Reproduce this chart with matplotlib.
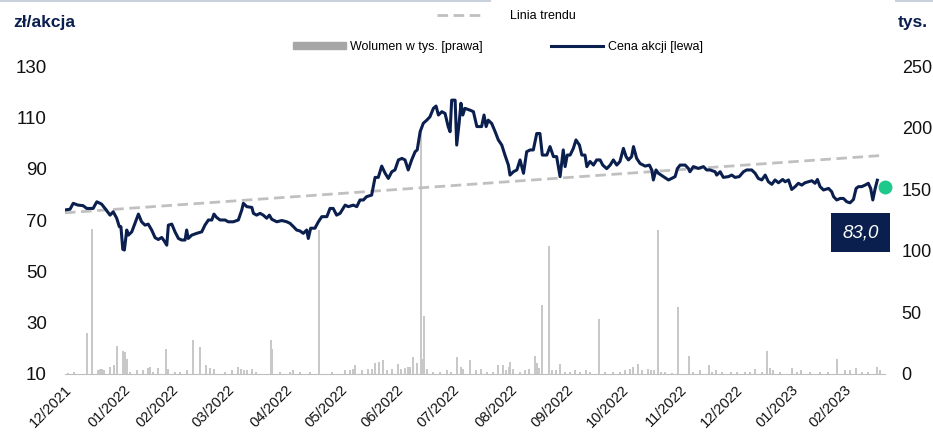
import matplotlib.pyplot as plt
from matplotlib.lines import Line2D
from matplotlib.patches import Patch

plt.rcParams['font.family'] = ['Liberation Sans', 'DejaVu Sans']

# session index (trading days from 1 Dec 2021) and closing price, zl
days = [
    0.0, 1.9, 3.1, 4.9, 6.8, 8.2, 10.6, 12.0, 13.8, 15.1, 17.0, 18.2, 19.5, 20.5, 21.1,
    21.8, 22.4, 23.3, 23.9, 25.2, 26.4, 27.7, 28.9, 30.2, 31.4, 32.7, 34.0, 35.2, 36.5,
    37.4, 38.4, 39.0, 40.3, 41.5, 42.8, 44.0, 45.3, 45.9, 46.5, 47.8, 49.7, 51.6, 52.8,
    54.1, 55.4, 56.2, 57.2, 58.5, 60.4, 61.6, 63.5, 65.4, 66.7, 67.3, 68.6, 70.5, 71.1,
    72.3, 73.6, 74.8, 76.1, 77.1, 78.0, 79.9, 81.8, 83.7, 84.9, 86.2, 87.4, 88.7, 89.9,
    91.2, 91.8, 92.7, 94.3, 95.6, 96.9, 98.8, 100.0, 101.2, 102.5,
    103.8, 105.7, 106.9, 108.8, 110.1, 111.3, 112.6, 113.8, 115.7, 117.0, 118.2, 119.5,
    120.8, 122.0, 123.3, 124.5, 125.8, 127.1, 128.3, 129.5, 130.8, 132.1, 132.9, 134.0,
    135.2, 136.5, 137.7, 139.0, 140.0, 140.9, 142.2, 143.4, 144.6, 145.3, 145.9, 147.2,
    147.8, 148.7, 149.4, 150.1, 150.9, 152.8, 154.1, 155.4, 157.2, 158.1, 158.9, 159.7,
    161.0, 162.3, 163.5, 164.8, 166.0, 167.3, 167.9, 169.2, 170.5, 171.7, 173.0, 174.2,
    175.5, 176.7, 178.0, 179.2, 180.1, 181.8, 183.0, 184.3, 185.5, 186.8, 188.0, 188.7,
    189.5, 190.6, 191.8, 192.8, 194.1, 195.0, 196.2, 196.9, 198.1, 199.4, 200.6, 201.9,
    202.9, 204.4,
    205.7, 206.9, 208.2, 209.4, 210.7, 211.7, 212.6, 213.8, 214.5, 215.7, 217.0, 218.9,
    220.5, 221.4, 222.0, 223.0, 223.9, 225.8, 227.7, 228.9, 230.2, 231.1, 232.1, 234.0,
    235.2, 235.8, 237.1, 239.0, 240.9, 242.1, 243.4, 245.3, 245.9, 247.2, 248.4, 250.3,
    251.6, 252.8, 254.4, 256.0, 257.2, 259.1, 260.4, 261.6, 262.9, 264.2, 265.4, 266.7,
    267.9, 269.2, 270.8, 271.7, 273.0, 274.2, 275.5, 276.7, 278.0, 279.2, 280.5, 281.8,
    283.0, 283.9, 284.9, 286.2, 288.1, 289.3, 290.0, 291.2, 292.5, 293.7, 295.0, 296.2,
    297.5, 298.5, 299.4, 300.6, 301.9, 303.1, 304.0, 304.8, 305.7, 306.5,
]
price = [
    73.9, 74.2, 76.5, 75.8, 75.6, 74.5, 74.5, 77.1, 76.2, 74.5, 71.9, 73.2, 70.7, 67.4, 67.4,
    58.6, 58.3, 66.1, 64.1, 65.4, 68.7, 72.3, 69.3, 68.0, 68.4, 66.1, 63.1, 62.4, 63.2,
    61.9, 60.2, 68.0, 68.4, 65.4, 62.8, 62.2, 62.2, 66.1, 62.8, 64.1, 64.8, 65.4, 68.0,
    70.0, 70.0, 72.3, 71.0, 70.0, 70.0, 69.3, 69.3, 70.0, 73.9, 76.5, 75.2, 74.9, 72.6,
    71.9, 72.6, 71.9, 70.7, 71.9, 70.3, 69.3, 69.8, 69.3, 68.7, 67.4, 66.1, 65.7, 64.8,
    66.1, 62.8, 66.8, 66.8, 69.3, 71.3, 71.3, 74.5, 74.5, 71.9,
    72.6, 75.8, 75.2, 75.8, 75.2, 77.8, 77.8, 79.1, 79.7, 86.6, 86.6, 91.0,
    88.2, 86.2, 88.8, 89.5, 93.4, 94.0, 93.4, 89.5, 93.4, 96.6, 97.3, 104.4,
    107.7, 108.9, 110.2, 113.5, 114.4, 110.9, 112.2, 111.5, 106.3, 104.4, 116.7, 116.7,
    99.2, 107.7, 115.5, 110.9, 113.5, 112.8, 112.2, 106.4, 106.4, 110.9, 106.4, 108.9,
    107.6, 104.4, 101.2, 99.2, 95.3, 91.4, 87.5, 88.8, 89.5, 93.4, 88.2, 96.6,
    97.3, 97.3, 103.7, 103.7, 95.3, 95.3, 98.6, 94.7, 94.7, 86.9, 97.3, 90.8,
    95.3, 95.3, 97.9, 101.2, 99.2, 95.3, 95.3, 90.8, 92.8, 91.4, 93.4, 93.4,
    91.4, 90.0,
    91.4, 93.4, 91.4, 92.8, 97.9, 94.7, 93.4, 94.7, 98.6, 94.0, 92.0, 91.0,
    91.4, 89.5, 85.6, 89.5, 88.2, 86.9, 85.6, 86.2, 86.9, 90.1, 91.4, 91.4,
    90.1, 88.8, 90.8, 90.1, 90.8, 89.5, 89.5, 88.8, 87.5, 88.8, 86.6, 86.9,
    87.5, 86.6, 86.9, 88.8, 89.5, 89.5, 88.2, 86.2, 85.6, 87.5, 84.9, 83.9,
    85.6, 84.5, 85.8, 84.9, 85.6, 81.9, 83.0, 84.3, 83.6, 84.5, 84.9, 85.3,
    84.3, 85.8, 83.0, 81.7, 82.3, 81.0, 79.1, 77.8, 78.4, 78.4, 77.1, 76.7,
    78.0, 82.3, 83.0, 83.0, 83.6, 84.3, 82.3, 77.8, 82.3, 85.5,
]
last_close = 83.0

# linear trend, start and end value
trend_days = [0, 309]
trend = [72.8, 95.2]

# turnover in thousands of shares
vol_days = [
    1.1, 3.4, 8.2, 10.1, 12.5, 13.2, 14.0, 14.7, 17.0, 18.5, 19.7, 21.9, 22.6, 23.4, 24.5,
    27.2, 29.4, 31.3, 32.1, 33.2, 35.1, 38.0, 38.9, 41.5, 43.4, 46.0, 48.3, 50.9, 53.1,
    54.7, 56.2, 60.4, 63.0, 65.4, 66.4, 67.5, 68.7, 70.6, 72.1, 77.6, 78.1, 81.1, 84.9,
    86.0, 88.7, 92.5, 96.0, 100.8, 105.7, 107.5, 108.7, 109.4, 112.1, 114.3, 115.8, 117.0,
    118.5, 120.0, 121.5, 123.4, 125.5, 126.8, 128.3, 129.4, 130.2, 131.4, 132.8, 134.2,
    134.7, 135.5, 136.6, 138.9, 141.5, 144.2, 145.7, 147.9, 149.4, 150.2, 152.8, 155.1,
    157.0, 159.2, 161.5, 163.4, 165.3, 166.4, 167.5, 167.9, 169.1, 171.7, 173.6, 175.1,
    177.4, 178.1, 178.9, 180.1, 182.6, 183.8, 185.3, 186.8, 188.7, 190.6, 192.5, 194.3,
    196.6, 198.1, 201.6, 203.8, 206.8, 209.4, 211.3, 213.2, 214.2, 216.1, 217.7, 220.0,
    221.1, 222.3, 223.9, 224.9, 226.4, 229.1, 231.4, 235.6, 237.0, 239.6, 243.1, 244.2,
    245.7, 247.9, 251.3, 253.6, 256.6, 258.5, 260.4, 263.0, 264.8, 266.0, 267.2, 269.8,
    274.3, 276.2, 277.7, 281.1, 284.9, 287.9, 291.3, 294.3, 296.2, 298.5, 300.8, 303.0,
    306.4, 307.5,
]
vol = [
    1, 2, 33, 118, 3, 4, 4, 3, 6, 7, 23, 19, 18, 12, 2,
    3, 3, 5, 6, 2, 5, 20, 4, 2, 2, 3, 28, 22, 7,
    5, 4, 2, 3, 6, 4, 3, 3, 4, 2, 28, 20, 2, 2,
    3, 2, 2, 117, 2, 3, 3, 4, 7, 3, 4, 4, 9,
    10, 11, 3, 4, 8, 4, 5, 6, 6, 14, 9, 198,
    12, 47, 4, 2, 2, 3, 2, 14, 6, 4, 11, 3,
    4, 2, 2, 7, 7, 3, 6, 10, 4, 2, 3, 4,
    15, 9, 5, 56, 104, 3, 3, 8, 2, 2, 3, 2,
    3, 2, 45, 2, 2, 2, 3, 4, 6, 8, 3, 4,
    3, 3, 117, 2, 2, 1, 54, 15, 2, 3, 7, 2,
    3, 2, 2, 2, 2, 2, 4, 2, 19, 5, 3, 2,
    5, 2, 3, 2, 2, 2, 12, 3, 3, 5, 2, 2,
    6, 3,
]

tick_days = [0, 22, 40, 61, 83, 104, 125, 146, 168, 189, 210, 232, 253, 274, 294]
tick_labels = ['12/2021', '01/2022', '02/2022', '03/2022', '04/2022', '05/2022',
               '06/2022', '07/2022', '08/2022', '09/2022', '10/2022', '11/2022',
               '12/2022', '01/2023', '02/2023']

NAVY = '#0b1f4f'
GREY = '#c8c8c8'

fig = plt.figure(figsize=(9.33, 4.37), dpi=100)
ax_vol = fig.add_axes([65 / 933, 63 / 437, 820 / 933, 308 / 437])
ax_px = ax_vol.twinx()

bars = ax_vol.bar(vol_days, vol, width=0.8, color=GREY, linewidth=0,
                  label='Wolumen w tys. [prawa]')
trend_line, = ax_px.plot(trend_days, trend, color='#c0c0c0', lw=2.0,
                         dashes=(3.8, 2.0), label='Linia trendu')
price_line, = ax_px.plot(days, price, color=NAVY, lw=2.2, solid_joinstyle='round',
                         label='Cena akcji [lewa]')

dot_day = days[-1] + 3
ax_px.plot(dot_day, last_close, 'o', color='#1fc98b', ms=9, clip_on=False, zorder=5)
ax_px.annotate(f'{last_close:.1f}'.replace('.', ','), xy=(dot_day, last_close),
               xytext=(-25, -46), textcoords='offset pixels', ha='center', va='center',
               color='white', style='italic', fontsize=13.5,
               bbox=dict(boxstyle='square,pad=0.6', fc=NAVY, ec='none'))

ax_vol.set_xlim(0, 309.4)
ax_vol.set_ylim(0, 250)
ax_px.set_ylim(10, 130)

# volume scale on the right, price scale on the left
ax_vol.yaxis.tick_right()
ax_px.yaxis.tick_left()
ax_vol.set_yticks(range(0, 251, 50))
ax_px.set_yticks(range(10, 131, 20))
ax_vol.tick_params(axis='y', length=0, pad=12, labelsize=13, labelcolor='#111111')
ax_px.tick_params(axis='y', length=0, pad=13, labelsize=13.5, labelcolor='#111111')

ax_vol.set_xticks(tick_days, tick_labels, rotation=45, ha='right',
                  rotation_mode='anchor')
ax_vol.tick_params(axis='x', length=0, pad=6, labelsize=10.5, labelcolor='#111111')

for a in (ax_vol, ax_px):
    for s in a.spines.values():
        s.set_visible(False)
ax_vol.spines['bottom'].set_visible(True)
ax_vol.spines['bottom'].set_color('#bfbfbf')

fig.text(13 / 933, 1 - 23 / 437, 'zł/akcja', fontsize=12.5, weight='bold',
         color=NAVY, va='center')
fig.text(898 / 933, 1 - 23 / 437, 'tys.', fontsize=12.5, weight='bold',
         color=NAVY, va='center')

fig.legend(handles=[trend_line], loc='center left',
           bbox_to_anchor=(437 / 933, 1 - 16 / 437), frameon=False,
           fontsize=9, handlelength=3.8, handletextpad=2.0,
           borderpad=0, borderaxespad=0)
fig.legend(handles=[Patch(color='#a6a6a6', label=bars.get_label()), price_line],
           loc='center left', bbox_to_anchor=(293 / 933, 1 - 47 / 437),
           frameon=False, fontsize=9, ncol=2, handlelength=4.2, handleheight=0.5,
           handletextpad=0.4, columnspacing=5.4, borderpad=0, borderaxespad=0)

# thin frame strip along the top edge
fig.add_artist(Line2D([0, 490 / 933], [0.998, 0.998], color='#c9d1dd', lw=1.5))
fig.add_artist(Line2D([896 / 933, 1], [0.998, 0.998], color='#c9d1dd', lw=1.5))

fig.savefig('out.png', dpi=100)
